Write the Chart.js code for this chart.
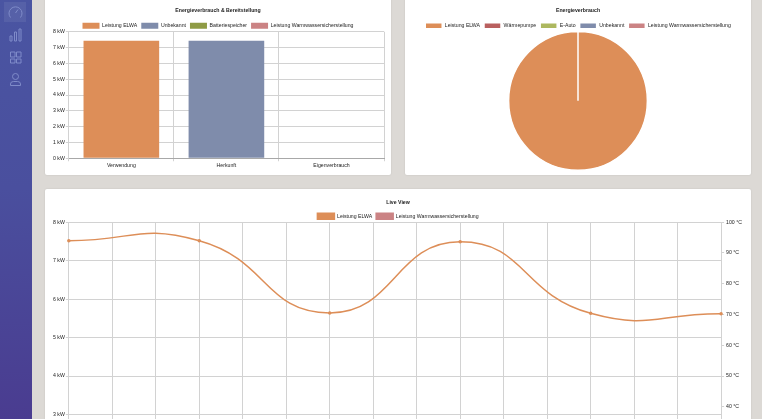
<!DOCTYPE html>
<html>
<head>
<meta charset="utf-8">
<script src="https://cdn.jsdelivr.net/npm/chart.js@4"></script>
<style>
html, body { margin: 0; padding: 0; width: 762px; height: 419px; overflow: hidden; background: #dcd9d5; }
#page { position: absolute; left: 0; top: 0; width: 762px; height: 419px; overflow: hidden; filter: blur(0.45px); }
#sidebar { position: absolute; left: 0; top: 0; width: 32px; height: 419px; background: linear-gradient(180deg, #4a55a2 0%, #4a4f9e 45%, #4a3c90 100%); }
#active { position: absolute; left: 4px; top: 2px; width: 22px; height: 20px; background: rgba(255,255,255,0.07); }
#sidebar svg { position: absolute; left: 8px; width: 15px; height: 15px; fill: none; stroke: #7f8bc9; stroke-width: 1; }
.card { position: absolute; background: #fff; border-radius: 2px; box-shadow: 0 0 2px rgba(0,0,0,0.12); }
.card canvas { position: absolute; left: 0; top: 0; }
</style>
</head>
<body>
<div id="page">
  <div id="sidebar">
    <div id="active"></div>
    <svg style="top:5px" viewBox="0 0 15 15"><path d="M2.5 12.5 A6.5 6.5 0 1 1 12.5 12.5"/><path d="M7.5 8 L10 4.5"/></svg>
    <svg style="top:27px" viewBox="0 0 15 15"><path d="M2 9h2v5H2zM6.5 5h2v9h-2zM11 2h2v12h-2z"/></svg>
    <svg style="top:50px" viewBox="0 0 15 15"><path d="M2.5 2h4.5v5H2.5zM8.5 2h4.5v5H8.5zM2.5 9h4.5v4H2.5zM8.5 9h4.5v4H8.5z"/></svg>
    <svg style="top:72px" viewBox="0 0 15 15"><circle cx="7.5" cy="4.5" r="3"/><path d="M2.5 13.5v-1.5q0-2.5 3-2.5h4q3 0 3 2.5v1.5z"/></svg>
  </div>
  <div class="card" style="left:45px;top:-10px;width:346px;height:185px"><canvas id="barChart"></canvas></div>
  <div class="card" style="left:405px;top:-10px;width:346px;height:185px"><canvas id="pieChart"></canvas></div>
  <div class="card" style="left:45px;top:189px;width:706px;height:370px"><canvas id="lineChart"></canvas></div>
</div>
<script>
// chart values
const barCategories = ['Verwendung', 'Herkunft', 'Eigenverbrauch'];
const barElwa = [7.43, 0, 0];
const barUnknown = [0, 7.43, 0];
const barBattery = [0, 0, 0];
const barHotWater = [0, 0, 0];

const pieLabels = ['Leistung ELWA', 'Wärmepumpe', 'E-Auto', 'Unbekannt', 'Leistung Warmwassersicherstellung'];
const pieValues = [7.43, 0, 0, 0, 0];

// only every third slot has a reading, the curve spans the gaps
const lineLabels = ['', '', '', '', '', '', '', '', '', '', '', '', '', '', '', ''];
const lineElwa = [7.52, null, null, 7.52, null, null, 5.64, null, null, 7.49, null, null, 5.63, null, null, 5.62];
const lineHotWater = [];

const ORANGE = '#dd8e58';
const BLUE = '#7f8cab';
const OLIVE = '#8f9b45';
const RED = '#b9605f';
const GREEN = '#adb85f';
const ROSE = '#cb8384';
const GRID = '#d2d2d2';
const TEXT = '#222222';
const FONT = { family: '"Liberation Sans", Arial, sans-serif', size: 5.2 };

Chart.defaults.font.family = FONT.family;
Chart.defaults.font.size = FONT.size;
Chart.defaults.color = TEXT;
Chart.defaults.animation = false;
Chart.defaults.responsive = false;

// pull the plot up under the legend
const trimLegend = {
    id: 'trimLegend',
    beforeInit(chart, args, opts) {
        const fit = chart.legend.fit;
        chart.legend.fit = function () {
            fit.call(this);
            this.height -= opts.by;
        };
    }
};

function commonPlugins(title, titleTop, titleBottom, trim) {
    return {
        trimLegend: { by: trim },
        title: { display: true, text: title, color: TEXT, font: { size: 5.2, weight: 'bold' }, padding: { top: titleTop, bottom: titleBottom } },
        legend: { labels: { boxWidth: 17, boxHeight: 6, padding: 4, color: TEXT, font: { size: 5.2 } } }
    };
}

function sizeCanvas(id, w, h) {
    const c = document.getElementById(id);
    c.width = w; c.height = h;
    c.style.width = w + 'px'; c.style.height = h + 'px';
    return c.getContext('2d');
}

// 1. Bars
new Chart(sizeCanvas('barChart', 346, 185), {
    type: 'bar',
    plugins: [trimLegend],
    data: { labels: barCategories, datasets: [
        { label: 'Leistung ELWA', data: barElwa, backgroundColor: ORANGE },
        { label: 'Unbekannt', data: barUnknown, backgroundColor: BLUE },
        { label: 'Batteriespeicher', data: barBattery, backgroundColor: OLIVE },
        { label: 'Leistung Warmwassersicherstellung', data: barHotWater, backgroundColor: ROSE }
    ]},
    options: {
        layout: { padding: { left: 7, right: 7, top: 0, bottom: 4.5 } },
        plugins: commonPlugins('Energieverbrauch & Bereitstellung', 17, 5.5, 7),
        scales: {
            x: {
                stacked: true,
                border: { color: '#a8a8a8' },
                grid: { color: ctx => ctx.index === barCategories.length ? 'transparent' : GRID, tickLength: 3 },
                ticks: { padding: 1.5, color: TEXT }
            },
            y: { stacked: true, min: 0, max: 8, border: { color: GRID }, grid: { color: GRID, tickLength: 3 }, ticks: { stepSize: 1, padding: 1, color: TEXT, callback: v => v + ' kW' } }
        }
    }
});

// 2. Pie
new Chart(sizeCanvas('pieChart', 346, 185), {
    type: 'pie',
    plugins: [trimLegend],
    data: { labels: pieLabels, datasets: [
        { data: pieValues, backgroundColor: [ORANGE, RED, GREEN, BLUE, ROSE], borderColor: '#fff', borderWidth: 1.5 }
    ]},
    options: {
        layout: { padding: { top: 0, bottom: 4 } },
        plugins: commonPlugins('Energieverbrauch', 17, 5.5, 8)
    }
});

// 3. Live view
new Chart(sizeCanvas('lineChart', 706, 358), {
    type: 'line',
    plugins: [trimLegend],
    data: { labels: lineLabels, datasets: [
        { label: 'Leistung ELWA', data: lineElwa, yAxisID: 'y', spanGaps: true, borderColor: ORANGE, backgroundColor: ORANGE, borderWidth: 1.5, pointRadius: 1, tension: 0.5 },
        { label: 'Leistung Warmwassersicherstellung', data: lineHotWater, yAxisID: 'temp', spanGaps: true, borderColor: ROSE, backgroundColor: ROSE, borderWidth: 1.5, pointRadius: 1, tension: 0.5 }
    ]},
    options: {
        layout: { padding: { left: 7, right: 7, top: 0, bottom: 6 } },
        plugins: commonPlugins('Live View', 10, 4, 7),
        scales: {
            x: { grid: { color: GRID, tickLength: 3 }, ticks: { padding: 1, color: TEXT, autoSkip: false, maxRotation: 0 } },
            y: { position: 'left', min: 0, max: 8, border: { color: GRID }, grid: { color: GRID, tickLength: 3 }, ticks: { stepSize: 1, padding: 1, color: TEXT, callback: v => v + ' kW' } },
            temp: { position: 'right', min: 0, max: 100, border: { color: GRID }, grid: { drawOnChartArea: false, color: GRID, tickLength: 3 }, ticks: { stepSize: 10, padding: 2, color: TEXT, callback: v => v + ' °C' } }
        }
    }
});
</script>
</body>
</html>
